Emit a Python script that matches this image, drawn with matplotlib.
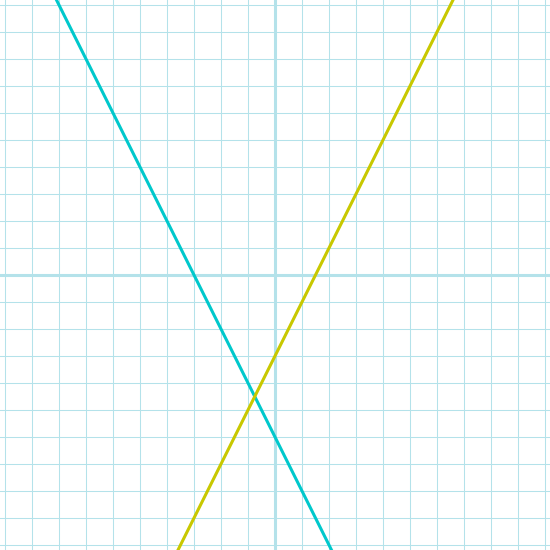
import numpy as np
import matplotlib
matplotlib.use("Agg")
import matplotlib.pyplot as plt

# two straight lines: y = slope * x + intercept
slopes = [-2, 2]
intercepts = [-6, -3]
colors = ["#00c8cc", "#c8c800"]

lim = 275 / 27.0
grid_ticks = np.arange(-10, 11, 1)

fig = plt.figure(figsize=(5.5, 5.5), dpi=100)
ax = fig.add_axes([0, 0, 1, 1])
ax.set_xlim(-lim, lim)
ax.set_ylim(-lim, lim)

grid_color = "#b4e2ea"
for t in grid_ticks:
    ax.axvline(t, color=grid_color, lw=0.75, zorder=1)
    ax.axhline(t, color=grid_color, lw=0.75, zorder=1)
ax.axvline(0, color=grid_color, lw=2.2, zorder=1)
ax.axhline(0, color=grid_color, lw=2.2, zorder=1)

xs = np.array([-lim - 1, lim + 1])
for m, b, c in zip(slopes, intercepts, colors):
    ax.plot(xs, m * xs + b, color=c, lw=2.2, zorder=3)

ax.set_axis_off()
fig.savefig("out.png", dpi=100)
